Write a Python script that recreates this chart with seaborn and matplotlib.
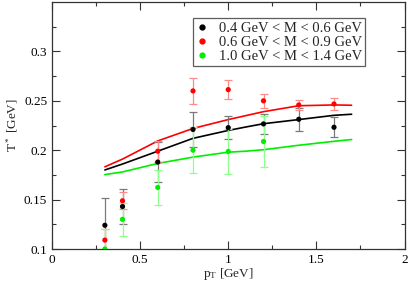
import seaborn as sns
import matplotlib
matplotlib.use('Agg')
import matplotlib.pyplot as plt
import pandas as pd

# measured points (pT in GeV, T* in GeV, symmetric error)
pt_pts = [0.3, 0.4, 0.6, 0.8, 1.0, 1.2, 1.4, 1.6]
t_low = [0.124, 0.143, 0.188, 0.221, 0.2228, 0.2266, 0.2313, 0.2232]
e_low = [0.028, 0.018, 0.020, 0.018, 0.0115, 0.010, 0.0115, 0.010]
t_mid = [0.109, 0.1488, 0.199, 0.260, 0.2613, 0.250, 0.2458, 0.2468]
e_mid = [0.011, 0.0086, 0.0105, 0.0135, 0.0097, 0.007, 0.0055, 0.006]
pt_high = [0.3, 0.4, 0.6, 0.8, 1.0, 1.2]
t_high = [0.100, 0.130, 0.1623, 0.200, 0.1987, 0.2088]
e_high = [0.020, 0.017, 0.018, 0.023, 0.023, 0.026]

# model curves
pt_curve = [0.3, 0.4, 0.6, 0.8, 1.0, 1.1, 1.2, 1.4, 1.6, 1.7]
c_low = [0.180, 0.186, 0.199, 0.212, 0.220, 0.2235, 0.2268, 0.231, 0.2353, 0.2364]
c_mid = [0.1832, 0.191, 0.2094, 0.222, 0.231, 0.235, 0.239, 0.245, 0.2458, 0.2455]
c_high = [0.1753, 0.178, 0.1866, 0.193, 0.198, 0.199, 0.2005, 0.205, 0.209, 0.2108]

labels = ['0.4 GeV < M < 0.6 GeV', '0.6 GeV < M < 0.9 GeV', '1.0 GeV < M < 1.4 GeV']
colors = ['#000000', '#ff0000', '#00ee00']
err_colors = ['#7a7a7a', '#ff8a8a', '#8cff8c']

sns.set_theme(style='ticks')
plt.rcParams['font.family'] = ['Liberation Serif', 'DejaVu Serif']
plt.rcParams['mathtext.fontset'] = 'custom'
plt.rcParams['mathtext.rm'] = 'Liberation Serif'
plt.rcParams['mathtext.it'] = 'Liberation Serif:italic'

fig = plt.figure(figsize=(4.09, 2.84), dpi=100)
ax = fig.add_axes([52 / 409, 35 / 284, 352.5 / 409, 247 / 284])

curves = [c_low, c_mid, c_high]
pts = [(pt_pts, t_low, e_low), (pt_pts, t_mid, e_mid), (pt_high, t_high, e_high)]

for c, col in zip(curves, colors):
    df = pd.DataFrame({'pt': pt_curve, 'T': c})
    sns.lineplot(data=df, x='pt', y='T', color=col, linewidth=1.2, ax=ax, zorder=2)

handles = []
for (x, y, e), col, ecol, lab in zip(pts, colors, err_colors, labels):
    ax.errorbar(x, y, yerr=e, fmt='none', ecolor=ecol, elinewidth=0.9,
                capsize=3, capthick=0.9, zorder=3)
    df = pd.DataFrame({'pt': x, 'T': y})
    sns.scatterplot(data=df, x='pt', y='T', color=col, s=14, edgecolor='none',
                    ax=ax, zorder=4)
    handles.append(plt.Line2D([], [], marker='o', ls='none', color=col, markersize=3.5))

ax.set_xlim(0, 2)
ax.set_ylim(0.1, 0.35)
ax.set_xticks([0, 0.5, 1, 1.5, 2])
ax.set_xticklabels(['0', '0.5', '1', '1.5', '2'])
ax.set_xticks([0.25, 0.75, 1.25, 1.75], minor=True)
ax.set_yticks([0.1, 0.15, 0.2, 0.25, 0.3])
ax.set_yticklabels(['0.1', '0.15', '0.2', '0.25', '0.3'])
ax.set_yticks([0.125, 0.175, 0.225, 0.275, 0.325], minor=True)
ax.tick_params(which='both', direction='in', top=True, right=True,
               labelsize=9.5, colors='#333333', labelcolor='black', width=0.8)
ax.tick_params(which='major', length=5.5)
ax.tick_params(which='minor', length=2.8)
for s in ax.spines.values():
    s.set_linewidth(0.9)
    s.set_color('#333333')

ax.set_xlabel('p$_\\mathrm{T}$ [GeV]', fontsize=9.5, labelpad=0)
ax.set_ylabel('T$^*$ [GeV]', fontsize=9.5, labelpad=3)

leg = ax.legend(handles, labels, loc='upper left', bbox_to_anchor=(0.40, 0.935),
                fontsize=10.5, frameon=True, fancybox=False, handlelength=0.8,
                handletextpad=0.7, labelspacing=0.05, borderpad=0.25,
                borderaxespad=0)
leg.get_frame().set_edgecolor('#333333')
leg.get_frame().set_linewidth(0.9)

fig.savefig('out.png', dpi=100)
